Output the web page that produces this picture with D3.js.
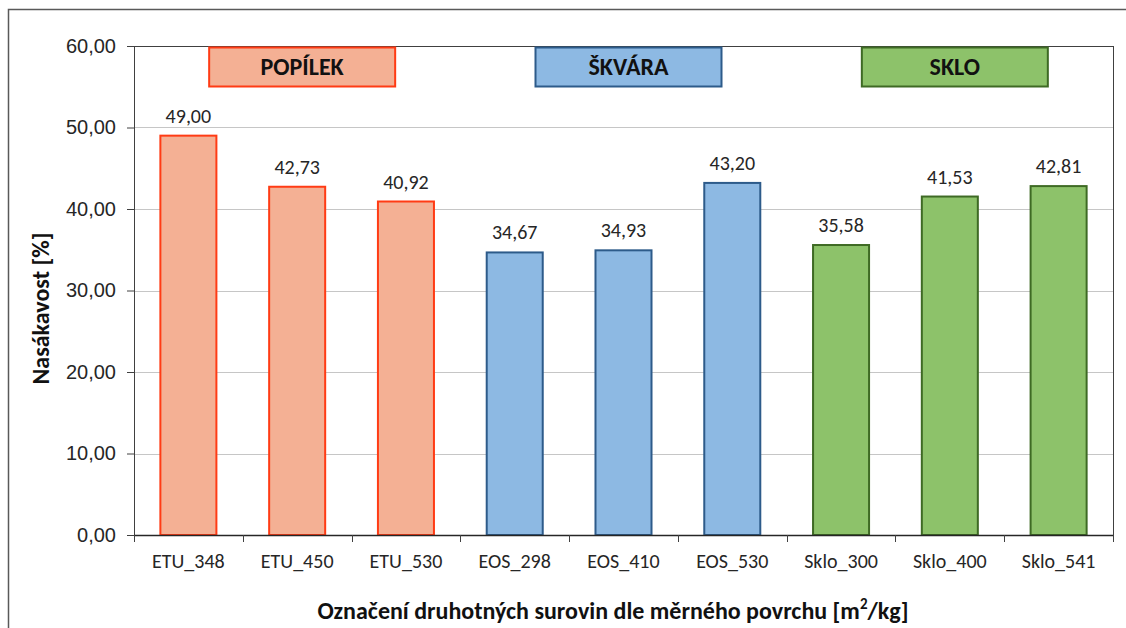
<!DOCTYPE html>
<html>
<head>
<meta charset="utf-8">
<script src="https://cdn.jsdelivr.net/npm/d3@7"></script>
<style>
  body { margin: 0; background: #fff; }
  svg { display: block; font-family: Calibri, Carlito, 'Open Sans', sans-serif; }
</style>
</head>
<body>
<div id="chart"></div>
<script>
const width = 1126;
const height = 628;

// data
const categories = ['ETU_348', 'ETU_450', 'ETU_530', 'EOS_298', 'EOS_410', 'EOS_530', 'Sklo_300', 'Sklo_400', 'Sklo_541'];
const values = [49.00, 42.73, 40.92, 34.67, 34.93, 43.20, 35.58, 41.53, 42.81];
const groupOf = [0, 0, 0, 1, 1, 1, 2, 2, 2];
const groupNames = ['POPÍLEK', 'ŠKVÁRA', 'SKLO'];
const groupFills = ['#f4b094', '#8db9e3', '#8dc26a'];
const groupStrokes = ['#ff3b14', '#2d5b8a', '#3e6a24'];
const yTicks = [0, 10, 20, 30, 40, 50, 60];

const margin = { top: 46, right: 13, bottom: 93, left: 134 };
const plotW = width - margin.left - margin.right;
const plotH = height - margin.top - margin.bottom;

const locale = d3.formatLocale({ decimal: ',', thousands: ' ', grouping: [3], currency: ['', ''] });
const fmt = locale.format('.2f');

const svg = d3.select('#chart').append('svg').attr('width', width).attr('height', height);

// outer chart frame (runs off the right and bottom edge)
svg.append('rect')
  .attr('x', 8.5).attr('y', 9.5)
  .attr('width', width + 20).attr('height', height + 20)
  .attr('fill', 'none').attr('stroke', '#595959').attr('stroke-width', 1.5);

const g = svg.append('g').attr('transform', `translate(${margin.left},${margin.top})`);

const x = d3.scaleBand().domain(categories).range([0, plotW]).paddingInner(0.485).paddingOuter(0.2425);
const y = d3.scaleLinear().domain([0, 60]).range([plotH, 0]);

// gridlines
g.append('g').selectAll('line')
  .data(yTicks.filter(t => t > 0 && t < 60))
  .enter().append('line')
  .attr('x1', 0).attr('x2', plotW)
  .attr('y1', d => Math.round(y(d)) + 0.5).attr('y2', d => Math.round(y(d)) + 0.5)
  .attr('stroke', '#c6c6c6').attr('stroke-width', 1);

// plot border
g.append('rect')
  .attr('x', 0.5).attr('y', 0.5).attr('width', plotW).attr('height', plotH)
  .attr('fill', 'none').attr('stroke', '#404040').attr('stroke-width', 1);

// bars
g.append('g').selectAll('rect')
  .data(values)
  .enter().append('rect')
  .attr('x', (d, i) => x(categories[i]))
  .attr('y', d => y(d))
  .attr('width', x.bandwidth())
  .attr('height', d => plotH - y(d))
  .attr('fill', (d, i) => groupFills[groupOf[i]])
  .attr('stroke', (d, i) => groupStrokes[groupOf[i]])
  .attr('stroke-width', 2);

// value labels
g.append('g').selectAll('text')
  .data(values)
  .enter().append('text')
  .attr('x', (d, i) => x(categories[i]) + x.bandwidth() / 2)
  .attr('y', d => y(d) - 13)
  .attr('text-anchor', 'middle')
  .attr('font-size', 20)
  .attr('fill', '#262626')
  .text(d => fmt(d));

// y axis
const yAxis = g.append('g')
  .call(d3.axisLeft(y).tickValues(yTicks).tickSize(7).tickPadding(11).tickFormat(fmt));
yAxis.select('.domain').attr('stroke', '#404040');
yAxis.selectAll('.tick line').attr('stroke', '#404040');
yAxis.selectAll('.tick text').attr('font-size', 20).attr('fill', '#262626').attr('font-family', null);

// x axis: ticks between categories
const xAxis = g.append('g').attr('transform', `translate(0,${plotH})`);
xAxis.append('line').attr('x1', 0).attr('x2', plotW).attr('y1', 0.5).attr('y2', 0.5)
  .attr('stroke', '#262626').attr('stroke-width', 1.5);
xAxis.selectAll('line.sep')
  .data(d3.range(categories.length + 1))
  .enter().append('line')
  .attr('class', 'sep')
  .attr('x1', i => Math.round(i * x.step()) + 0.5).attr('x2', i => Math.round(i * x.step()) + 0.5)
  .attr('y1', 0).attr('y2', 7)
  .attr('stroke', '#404040');
xAxis.selectAll('text')
  .data(categories)
  .enter().append('text')
  .attr('x', d => x(d) + x.bandwidth() / 2)
  .attr('y', 33)
  .attr('text-anchor', 'middle')
  .attr('font-size', 20)
  .attr('fill', '#262626')
  .text(d => d);

// group labels
const groupBoxW = 186;
const groupBoxH = 39;
const groupBox = g.append('g').selectAll('g')
  .data(groupNames)
  .enter().append('g')
  .attr('transform', (d, gi) => {
    const idx = groupOf.map((v, i) => v === gi ? i : -1).filter(i => i >= 0);
    const mid = x(categories[idx[1]]) + x.bandwidth() / 2;
    return `translate(${mid + 5 - groupBoxW / 2},1.5)`;
  });
groupBox.append('rect')
  .attr('width', groupBoxW).attr('height', groupBoxH)
  .attr('fill', (d, i) => groupFills[i])
  .attr('stroke', (d, i) => groupStrokes[i])
  .attr('stroke-width', 2);
groupBox.append('text')
  .attr('x', groupBoxW / 2).attr('y', groupBoxH / 2 + 8)
  .attr('text-anchor', 'middle')
  .attr('font-size', 24).attr('font-weight', 'bold')
  .attr('fill', '#111')
  .text(d => d);

// axis titles
svg.append('text')
  .attr('transform', `translate(49,${margin.top + plotH / 2 + 18}) rotate(-90)`)
  .attr('text-anchor', 'middle')
  .attr('font-size', 24).attr('font-weight', 'bold')
  .attr('fill', '#111')
  .text('Nasákavost [%]');

const xTitle = svg.append('text')
  .attr('x', 613).attr('y', 619)
  .attr('text-anchor', 'middle')
  .attr('font-size', 24).attr('font-weight', 'bold')
  .attr('fill', '#111');
xTitle.append('tspan').text('Označení druhotných surovin dle měrného povrchu [m');
xTitle.append('tspan').attr('font-size', 15).attr('dy', -10).text('2');
xTitle.append('tspan').attr('dy', 10).text('/kg]');
</script>
</body>
</html>
